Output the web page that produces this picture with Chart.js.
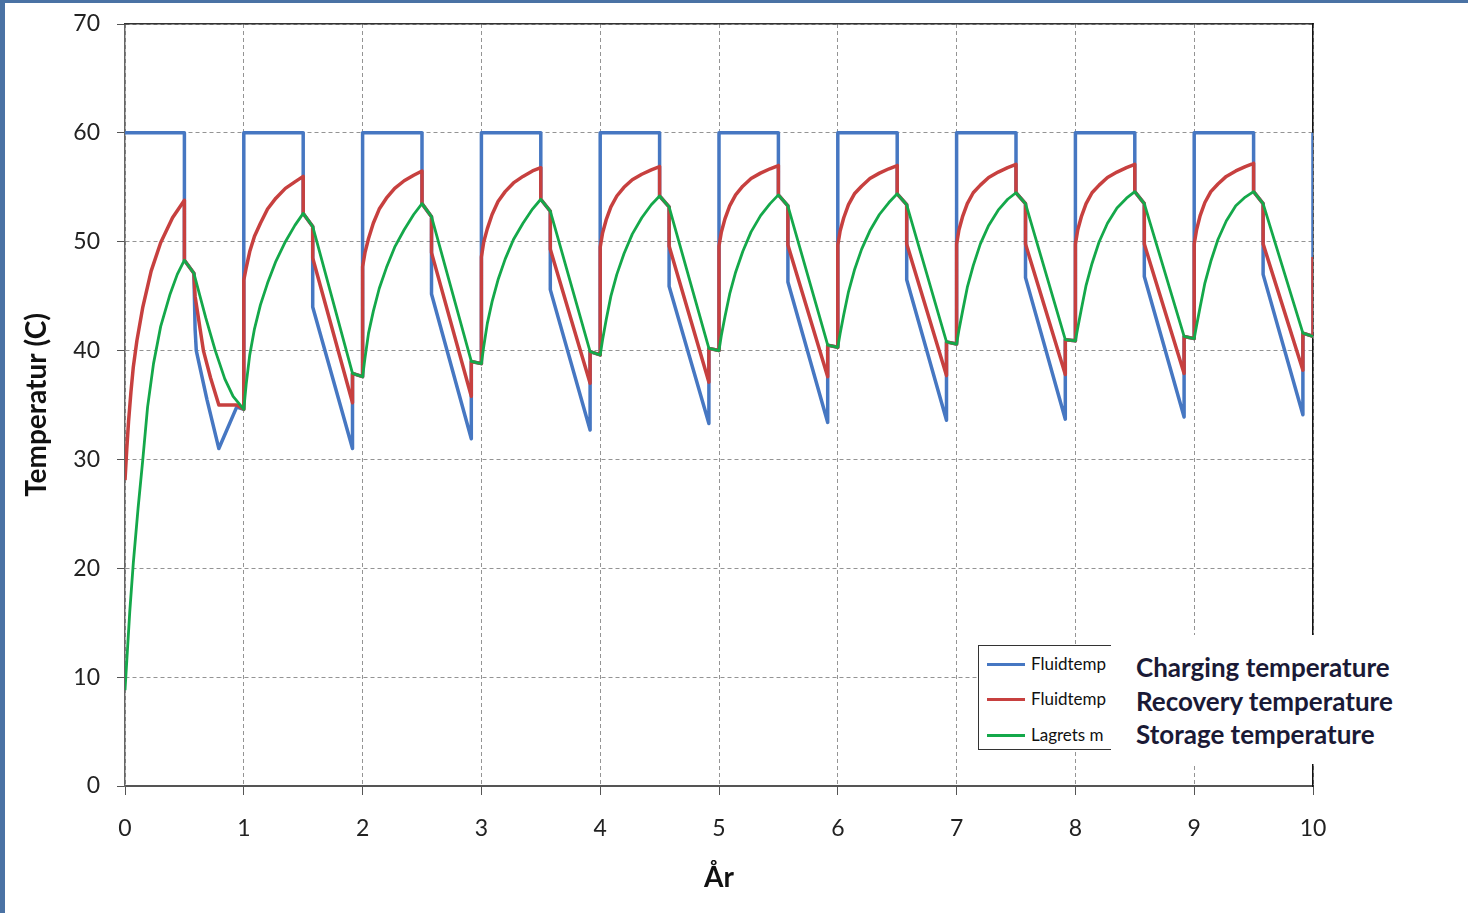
<!DOCTYPE html>
<html>
<head>
<meta charset="utf-8">
<script src="https://cdn.jsdelivr.net/npm/chart.js@4.4.1/dist/chart.umd.min.js"></script>
<style>
  html, body { margin: 0; padding: 0; background: #fff; }
  #wrap { position: relative; width: 1468px; height: 913px; overflow: hidden; background: #fff; }
  .strip-left { position: absolute; left: 0; top: 0; width: 5px; height: 913px; background: #4a72a4; }
  .strip-top { position: absolute; left: 0; top: 0; width: 1468px; height: 3px; background: #4a72a4; }
  canvas { position: absolute; left: 0; top: 0; }
  .legend { position: absolute; left: 978px; top: 645px; width: 140px; height: 103px;
            border: 1.5px solid #333; border-right: none; background: #fff; overflow: hidden;
            font-family: Lato, sans-serif; font-size: 17px; color: #111; }
  .legend .row { position: absolute; left: 0; height: 20px; white-space: nowrap; }
  .legend .swatch { position: absolute; left: 8px; top: 9px; width: 38px; height: 2.5px; }
  .legend .name { position: absolute; left: 52px; top: 0; line-height: 20px; }
  .note { position: absolute; left: 1111px; top: 635px; width: 300px; height: 129px; background: #fff;
          font-family: Lato, sans-serif; font-weight: bold; font-size: 26px; color: #1a1a36; }
  .note div { position: absolute; left: 25px; white-space: nowrap; line-height: 28px; }
</style>
</head>
<body>
<div id="wrap">
  <div class="strip-left"></div>
  <div class="strip-top"></div>
  <canvas id="myChart" width="1468" height="913"></canvas>
  <div class="legend" id="legend"></div>
  <div class="note" id="note"></div>
</div>
<script>
// tick values
var yearTicks = [0, 1, 2, 3, 4, 5, 6, 7, 8, 9, 10];
var tempTicks = [0, 10, 20, 30, 40, 50, 60, 70];

var legendNames = ["Fluidtemp", "Fluidtemp", "Lagrets m"];
var noteLabels = ["Charging temperature", "Recovery temperature", "Storage temperature"];

// [år, temperatur]
var charging = [
  [0,60],[0.5,60],[0.5,48.3],[0.58,47.1],[0.59,42.0],[0.6,40.0],[0.69,35.5],[0.79,31.0],[0.94,34.8],[1,34.6],
  [1,60],[1.5,60],[1.5,52.6],[1.58,51.4],[1.58,44.0],[1.915,31.0],[1.915,37.9],[2,37.6],
  [2,60],[2.5,60],[2.5,53.5],[2.58,52.3],[2.58,45.2],[2.915,31.9],[2.915,39.0],[3,38.8],
  [3,60],[3.5,60],[3.5,53.9],[3.58,52.8],[3.58,45.6],[3.915,32.7],[3.915,39.9],[4,39.6],
  [4,60],[4.5,60],[4.5,54.2],[4.58,53.2],[4.58,45.9],[4.915,33.3],[4.915,40.2],[5,40.0],
  [5,60],[5.5,60],[5.5,54.3],[5.58,53.3],[5.58,46.3],[5.915,33.4],[5.915,40.5],[6,40.3],
  [6,60],[6.5,60],[6.5,54.4],[6.58,53.4],[6.58,46.5],[6.915,33.6],[6.915,40.8],[7,40.6],
  [7,60],[7.5,60],[7.5,54.5],[7.58,53.5],[7.58,46.7],[7.915,33.7],[7.915,41.0],[8,40.9],
  [8,60],[8.5,60],[8.5,54.6],[8.58,53.5],[8.58,46.8],[8.915,33.9],[8.915,41.3],[9,41.1],
  [9,60],[9.5,60],[9.5,54.6],[9.58,53.5],[9.58,47.0],[9.915,34.1],[9.915,41.6],[10,41.3],
  [10,60]
];

var recovery = [
  [0,28.1],[0.015,31.0],[0.03,33.5],[0.05,36.2],[0.07,38.5],[0.1,40.9],[0.15,44.0],[0.22,47.3],[0.3,49.9],[0.4,52.2],[0.5,53.8],
  [0.5,48.3],[0.58,47.1],[0.59,45.0],[0.66,40.0],[0.72,37.5],[0.79,35.0],[0.94,35.0],[1,34.6],
  [1,46.5],[1.02,47.6],[1.05,49.1],[1.09,50.5],[1.14,51.7],[1.2,53.0],[1.27,54.0],[1.35,54.9],[1.43,55.5],[1.5,56.0],
  [1.5,52.6],[1.58,51.4],[1.58,48.5],[1.915,35.2],[1.915,37.9],[2,37.6],
  [2,47.7],[2.02,49.0],[2.05,50.3],[2.09,51.7],[2.14,53.0],[2.2,54.0],[2.27,54.9],[2.35,55.6],[2.43,56.1],[2.5,56.5],
  [2.5,53.5],[2.58,52.3],[2.58,49.0],[2.915,35.8],[2.915,39.0],[3,38.8],
  [3,48.6],[3.02,50.0],[3.05,51.2],[3.09,52.5],[3.14,53.7],[3.2,54.6],[3.27,55.4],[3.35,56.0],[3.43,56.5],[3.5,56.8],
  [3.5,53.9],[3.58,52.8],[3.58,49.3],[3.915,37.0],[3.915,39.9],[4,39.6],
  [4,49.5],[4.02,50.8],[4.05,52.0],[4.09,53.2],[4.14,54.2],[4.2,55.0],[4.27,55.7],[4.35,56.2],[4.43,56.6],[4.5,56.9],
  [4.5,54.2],[4.58,53.2],[4.58,49.6],[4.915,37.1],[4.915,40.2],[5,40.0],
  [5,49.6],[5.02,50.9],[5.05,52.1],[5.09,53.3],[5.14,54.3],[5.2,55.1],[5.27,55.8],[5.35,56.3],[5.43,56.7],[5.5,57.0],
  [5.5,54.3],[5.58,53.3],[5.58,49.7],[5.915,37.6],[5.915,40.5],[6,40.3],
  [6,49.7],[6.02,51.0],[6.05,52.2],[6.09,53.4],[6.14,54.4],[6.2,55.1],[6.27,55.8],[6.35,56.3],[6.43,56.7],[6.5,57.0],
  [6.5,54.4],[6.58,53.4],[6.58,49.8],[6.915,37.7],[6.915,40.8],[7,40.6],
  [7,49.8],[7.02,51.1],[7.05,52.3],[7.09,53.5],[7.14,54.5],[7.2,55.2],[7.27,55.9],[7.35,56.4],[7.43,56.8],[7.5,57.1],
  [7.5,54.5],[7.58,53.5],[7.58,49.8],[7.915,37.8],[7.915,41.0],[8,40.9],
  [8,49.8],[8.02,51.1],[8.05,52.3],[8.09,53.5],[8.14,54.5],[8.2,55.2],[8.27,55.9],[8.35,56.4],[8.43,56.8],[8.5,57.1],
  [8.5,54.6],[8.58,53.5],[8.58,49.8],[8.915,37.9],[8.915,41.3],[9,41.1],
  [9,49.8],[9.02,51.1],[9.05,52.4],[9.09,53.6],[9.14,54.6],[9.2,55.3],[9.27,56.0],[9.35,56.5],[9.43,56.9],[9.5,57.2],
  [9.5,54.6],[9.58,53.5],[9.58,49.8],[9.915,38.2],[9.915,41.6],[10,41.3],
  [10,48.6]
];

var storage = [
  [0,8.8],[0.015,11.5],[0.04,16.0],[0.07,20.5],[0.11,25.5],[0.15,30.0],[0.19,34.8],[0.24,38.8],[0.3,42.2],[0.38,45.2],[0.44,47.0],[0.5,48.3],
  [0.58,47.1],[0.68,43.0],[0.76,40.0],[0.84,37.4],[0.91,35.8],[1,34.6],
  [1.02,36.9],[1.05,39.6],[1.09,42.0],[1.14,44.2],[1.2,46.2],[1.27,48.2],[1.35,50.0],[1.43,51.5],[1.5,52.6],[1.58,51.4],[1.915,37.9],[2,37.6],
  [2.02,39.3],[2.05,41.6],[2.09,43.6],[2.14,45.7],[2.2,47.6],[2.27,49.5],[2.35,51.1],[2.43,52.5],[2.5,53.5],[2.58,52.3],[2.915,39.0],[3,38.8],
  [3.02,40.4],[3.05,42.5],[3.09,44.5],[3.14,46.5],[3.2,48.4],[3.27,50.2],[3.35,51.7],[3.43,53.0],[3.5,53.9],[3.58,52.8],[3.915,39.9],[4,39.6],
  [4.02,41.0],[4.05,42.8],[4.09,45.0],[4.14,47.0],[4.2,48.9],[4.27,50.7],[4.35,52.2],[4.43,53.4],[4.5,54.2],[4.58,53.2],[4.915,40.2],[5,40.0],
  [5.02,41.4],[5.05,43.1],[5.09,45.2],[5.14,47.2],[5.2,49.1],[5.27,50.9],[5.35,52.4],[5.43,53.5],[5.5,54.3],[5.58,53.3],[5.915,40.5],[6,40.3],
  [6.02,41.6],[6.05,43.3],[6.09,45.4],[6.14,47.4],[6.2,49.3],[6.27,51.0],[6.35,52.5],[6.43,53.6],[6.5,54.4],[6.58,53.4],[6.915,40.8],[7,40.6],
  [7.02,41.9],[7.05,43.6],[7.09,45.8],[7.14,47.8],[7.2,49.8],[7.27,51.5],[7.35,52.9],[7.43,53.9],[7.5,54.5],[7.58,53.5],[7.915,41.0],[8,40.9],
  [8.02,42.1],[8.05,43.8],[8.09,46.0],[8.14,48.0],[8.2,50.0],[8.27,51.7],[8.35,53.1],[8.43,54.0],[8.5,54.6],[8.58,53.5],[8.915,41.3],[9,41.1],
  [9.02,42.3],[9.05,44.0],[9.09,46.2],[9.14,48.2],[9.2,50.2],[9.27,51.9],[9.35,53.3],[9.43,54.1],[9.5,54.6],[9.58,53.5],[9.915,41.6],[10,41.3]
];

var colors = ["#4677c2", "#c7403f", "#14a84a"];

function toPoints(arr) {
  return arr.map(function (p) { return { x: p[0], y: p[1] }; });
}

document.addEventListener("DOMContentLoaded", function () {
  var ctx = document.getElementById("myChart").getContext("2d");
  var labelFont = { family: "Lato", size: 23 };
  var titleFont = { family: "Lato", size: 28, weight: "bold" };
  var gridColor = "#949494";

  var config = {
    type: "line",
    data: {
      datasets: [
        { label: legendNames[0], data: toPoints(charging), borderColor: colors[0], borderWidth: 3.5, order: 3 },
        { label: legendNames[1], data: toPoints(recovery), borderColor: colors[1], borderWidth: 3.5, order: 2 },
        { label: legendNames[2], data: toPoints(storage), borderColor: colors[2], borderWidth: 2.8, order: 1 }
      ]
    },
    options: {
      responsive: false,
      animation: false,
      devicePixelRatio: 1,
      layout: { padding: { left: 0, top: 24, right: 155, bottom: 0 } },
      elements: {
        point: { radius: 0, hoverRadius: 0 },
        line: { tension: 0, fill: false, borderJoinStyle: "round" }
      },
      plugins: { legend: { display: false }, tooltip: { enabled: false } },
      scales: {
        x: {
          type: "linear", position: "bottom", min: 0, max: 10,
          afterBuildTicks: function (s) { s.ticks = yearTicks.map(function (v) { return { value: v }; }); },
          afterFit: function (s) { s.height = 127; },
          grid: { color: gridColor, lineWidth: 1, tickLength: 9, tickColor: "#555" },
          border: { display: true, color: "#555", width: 2, dash: [4, 3] },
          ticks: { font: labelFont, color: "#222", padding: 20, maxRotation: 0 },
          title: { display: true, text: "År", font: titleFont, color: "#111",
                   padding: { top: 0, bottom: 18 } }
        },
        y: {
          type: "linear", position: "left", min: 0, max: 70,
          afterBuildTicks: function (s) { s.ticks = tempTicks.map(function (v) { return { value: v }; }); },
          afterFit: function (s) { s.width = 125; s.paddingTop = 0; s.paddingBottom = 0; },
          grid: { color: gridColor, lineWidth: 1, tickLength: 8, tickColor: "#555" },
          border: { display: true, color: "#666", width: 1.5, dash: [4, 3] },
          ticks: { font: labelFont, color: "#222", padding: 17 },
          title: { display: true, text: "Temperatur (C)", font: titleFont, color: "#111",
                   padding: { top: 20, bottom: 0 } }
        },
        xTop: {
          axis: "x", type: "linear", position: "top", min: 0, max: 10,
          grid: { display: false }, ticks: { display: false },
          border: { display: true, color: "#333", width: 1.5 },
          afterFit: function (s) { s.height = 0; }
        },
        yRight: {
          axis: "y", type: "linear", position: "right", min: 0, max: 70,
          grid: { display: false }, ticks: { display: false },
          border: { display: true, color: "#111", width: 1.5 },
          afterFit: function (s) { s.width = 0; }
        }
      }
    }
  };
  config.data.datasets.forEach(function (d) { d.xAxisID = "x"; d.yAxisID = "y"; });
  var myChart = new Chart(ctx, config);

  // legend box (truncated names) and the white note on top of it
  var legend = document.getElementById("legend");
  var rowTops = [8, 43, 79];
  legendNames.forEach(function (name, i) {
    var row = document.createElement("div");
    row.className = "row";
    row.style.top = rowTops[i] + "px";
    row.style.width = "140px";
    row.innerHTML = '<div class="swatch" style="background:' + colors[i] + '"></div><div class="name">' + name + "</div>";
    legend.appendChild(row);
  });
  var note = document.getElementById("note");
  var noteTops = [18, 52, 85];
  noteLabels.forEach(function (t, i) {
    var d = document.createElement("div");
    d.style.top = noteTops[i] + "px";
    d.textContent = t;
    note.appendChild(d);
  });
});
</script>
</body>
</html>
